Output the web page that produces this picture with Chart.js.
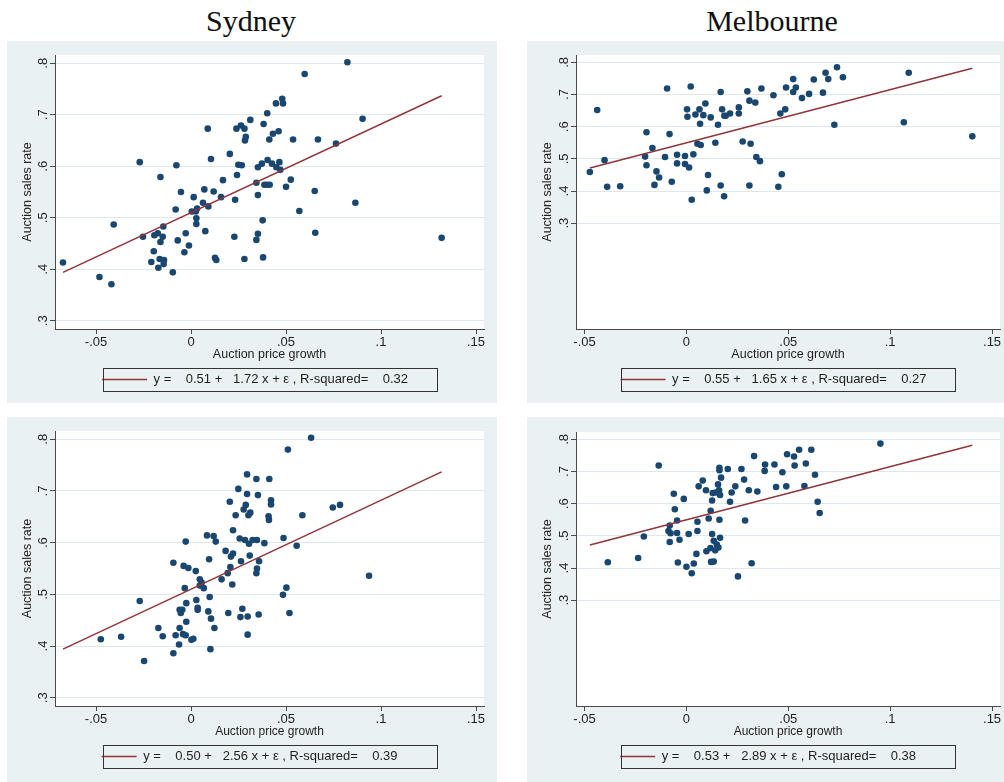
<!DOCTYPE html>
<html>
<head>
<meta charset="utf-8">
<script src="https://cdn.jsdelivr.net/npm/chart.js@4.4.1/dist/chart.umd.min.js"></script>
<style>
  html, body { margin: 0; padding: 0; background: #ffffff; }
  body { width: 1004px; height: 782px; position: relative; overflow: hidden; }
  .city { position: absolute; top: 2px; font-family: 'Liberation Serif', 'DejaVu Serif', serif;
          font-size: 30px; line-height: 38px; color: #111; transform: translateX(-50%); white-space: nowrap; }
  canvas { position: absolute; }
</style>
</head>
<body>
<div class="city" style="left:251px">Sydney</div>
<div class="city" style="left:772px">Melbourne</div>
<canvas id="sydTop" width="490" height="362" style="left:7px;top:41px"></canvas>
<canvas id="melTop" width="477" height="362" style="left:527px;top:41px"></canvas>
<canvas id="sydBot" width="490" height="365" style="left:7px;top:417px"></canvas>
<canvas id="melBot" width="477" height="365" style="left:527px;top:417px"></canvas>
<script>
// ---- Sydney, upper panel: auction price growth vs auction sales rate ----
const sydGrowth1 = [-0.0674,-0.0482,-0.0419,-0.0407,-0.0270,-0.0253,-0.0161,-0.0077,-0.0053,-0.0081,
  -0.0196,-0.0193,-0.0175,-0.0161,-0.0146,-0.0149,-0.0209,-0.0165,-0.0142,-0.0144,
  -0.0172,-0.0096,-0.0070,-0.0028,-0.0035,-0.0011,0.0014,0.0004,0.0025,0.0032,
  0.0028,0.0028,0.0063,0.0070,0.0091,0.0075,0.0088,0.0105,0.0119,0.0126,
  0.0133,0.0158,0.0168,0.0204,0.0232,0.0228,0.0239,0.0263,0.0281,0.0249,
  0.0267,0.0242,0.0288,0.0284,0.0281,0.0312,0.0382,0.0401,0.0447,0.0480,
  0.0484,0.0461,0.0431,0.0412,0.0537,0.0668,0.0763,0.0598,0.0823,0.0903,
  0.0352,0.0373,0.0403,0.0426,0.0449,0.0465,0.0470,0.0344,0.0352,0.0386,
  0.0400,0.0414,0.0500,0.0525,0.0651,0.0865,0.0570,0.0377,0.0352,0.0344,
  0.0654,0.0379,0.1319];
const sydRate1 = [0.413,0.385,0.371,0.487,0.608,0.463,0.579,0.602,0.550,0.516,
  0.435,0.466,0.470,0.453,0.483,0.463,0.414,0.420,0.418,0.410,
  0.403,0.394,0.456,0.470,0.433,0.446,0.540,0.512,0.512,0.518,
  0.499,0.488,0.529,0.555,0.522,0.474,0.673,0.614,0.551,0.422,
  0.418,0.540,0.573,0.624,0.535,0.463,0.673,0.679,0.673,0.603,
  0.602,0.583,0.657,0.650,0.420,0.690,0.682,0.703,0.722,0.731,
  0.722,0.668,0.663,0.652,0.652,0.652,0.644,0.779,0.802,0.692,
  0.598,0.605,0.612,0.605,0.598,0.608,0.593,0.568,0.544,0.564,
  0.564,0.564,0.560,0.574,0.552,0.529,0.513,0.495,0.469,0.457,
  0.471,0.423,0.461];

// ---- Melbourne, upper panel ----
const melGrowth1 = [-0.0474,-0.0438,-0.0402,-0.0389,-0.0325,-0.0196,-0.0203,-0.0196,-0.0167,-0.0147,
  -0.0134,-0.0157,-0.0095,-0.0083,-0.0105,-0.0072,-0.0046,-0.0046,-0.0007,-0.0007,
  0.0013,0.0003,0.0005,0.0021,0.0034,0.0026,0.0044,0.0064,0.0067,0.0083,
  0.0093,0.0054,0.0070,0.0119,0.0106,0.0100,0.0142,0.0155,0.0168,0.0175,
  0.0186,0.0193,0.0214,0.0168,0.0185,0.0257,0.0257,0.0276,0.0299,0.0309,
  0.0315,0.0309,0.0338,0.0368,0.0343,0.0361,0.0427,0.0461,0.0485,0.0489,
  0.0524,0.0524,0.0537,0.0567,0.0602,0.0625,0.0670,0.0683,0.0696,0.0739,
  0.0768,0.0726,0.0468,0.0451,0.1067,0.1091,0.1403];
const melRate1 = [0.459,0.652,0.496,0.413,0.415,0.583,0.507,0.480,0.534,0.461,
  0.442,0.419,0.719,0.577,0.506,0.429,0.513,0.486,0.509,0.484,
  0.473,0.654,0.631,0.725,0.514,0.373,0.638,0.654,0.609,0.636,
  0.672,0.547,0.543,0.629,0.450,0.402,0.550,0.606,0.708,0.654,
  0.634,0.634,0.641,0.417,0.384,0.660,0.641,0.554,0.710,0.681,
  0.547,0.417,0.675,0.719,0.506,0.493,0.698,0.641,0.654,0.722,
  0.748,0.708,0.722,0.689,0.702,0.747,0.706,0.768,0.748,0.785,
  0.754,0.606,0.452,0.413,0.614,0.768,0.570];

// ---- Sydney, lower panel ----
const sydGrowth2 = [-0.0475,-0.0368,-0.0270,-0.0247,-0.0172,-0.0149,-0.0093,-0.0093,-0.0081,-0.0063,
  -0.0060,-0.0060,-0.0054,-0.0046,-0.0042,-0.0039,-0.0028,-0.0028,-0.0033,-0.0025,
  -0.0025,-0.0014,0.0002,0.0012,0.0025,0.0028,0.0035,0.0035,0.0046,0.0046,
  0.0056,0.0067,0.0084,0.0095,0.0098,0.0091,0.0105,0.0102,0.0123,0.0119,
  0.0130,0.0161,0.0182,0.0193,0.0196,0.0207,0.0210,0.0217,0.0221,0.0221,
  0.0204,0.0235,0.0249,0.0256,0.0260,0.0263,0.0270,0.0277,0.0288,0.0295,
  0.0295,0.0284,0.0298,0.0298,0.0302,0.0305,0.0309,0.0344,0.0412,0.0352,
  0.0312,0.0421,0.0421,0.0408,0.0410,0.0510,0.0632,0.0586,0.0746,0.0784,
  0.0324,0.0347,0.0386,0.0487,0.0556,0.0358,0.0347,0.0344,0.0937,0.0502,
  0.0484,0.0356,0.0518];
const sydRate2 = [0.413,0.418,0.487,0.371,0.435,0.419,0.561,0.386,0.421,0.403,
  0.435,0.470,0.464,0.470,0.423,0.555,0.421,0.602,0.512,0.483,
  0.447,0.551,0.412,0.414,0.545,0.489,0.474,0.470,0.529,0.517,
  0.523,0.512,0.614,0.568,0.495,0.467,0.453,0.394,0.435,0.613,
  0.602,0.529,0.584,0.541,0.464,0.553,0.573,0.519,0.579,0.624,
  0.679,0.653,0.704,0.608,0.456,0.564,0.472,0.664,0.673,0.732,
  0.694,0.605,0.457,0.422,0.653,0.598,0.575,0.723,0.723,0.692,
  0.658,0.682,0.674,0.651,0.644,0.780,0.803,0.653,0.668,0.673,
  0.605,0.605,0.599,0.609,0.594,0.564,0.550,0.541,0.536,0.513,
  0.499,0.461,0.464];

// ---- Melbourne, lower panel ----
const melGrowth2 = [-0.0386,-0.0237,-0.0209,-0.0136,-0.0062,-0.0057,-0.0046,-0.0082,-0.0088,-0.0078,
  -0.0046,-0.0082,-0.0034,-0.0042,-0.0013,0.0000,0.0011,0.0026,0.0036,0.0049,
  0.0054,0.0054,0.0060,0.0080,0.0096,0.0109,0.0098,0.0118,0.0119,0.0126,
  0.0129,0.0126,0.0134,0.0141,0.0149,0.0157,0.0121,0.0134,0.0144,0.0155,
  0.0160,0.0165,0.0162,0.0165,0.0162,0.0162,0.0170,0.0203,0.0214,0.0222,
  0.0240,0.0253,0.0270,0.0283,0.0288,0.0306,0.0320,0.0332,0.0348,0.0386,
  0.0384,0.0432,0.0471,0.0440,0.0490,0.0494,0.0528,0.0531,0.0553,0.0579,
  0.0586,0.0613,0.0631,0.0644,0.0654,0.0952];
const melRate2 = [0.418,0.431,0.498,0.719,0.631,0.583,0.548,0.532,0.515,0.508,
  0.509,0.481,0.488,0.417,0.615,0.404,0.506,0.384,0.414,0.444,
  0.544,0.515,0.654,0.672,0.642,0.554,0.452,0.462,0.578,0.610,
  0.633,0.506,0.485,0.455,0.473,0.464,0.419,0.420,0.635,0.660,
  0.642,0.627,0.550,0.494,0.712,0.704,0.681,0.708,0.606,0.635,
  0.654,0.374,0.708,0.675,0.548,0.642,0.415,0.748,0.638,0.722,
  0.702,0.722,0.698,0.652,0.654,0.754,0.747,0.719,0.768,0.655,
  0.725,0.768,0.690,0.606,0.571,0.787];

// Fitted line coefficients [intercept, slope]; both panels of a city show the same fit
const sydFit = [0.51, 1.72];
const melFit = [0.55, 1.65];

// Figures quoted in each legend: [intercept, slope, R-squared]
const sydLegend1 = ['0.51', '1.72', '0.32'];
const melLegend1 = ['0.55', '1.65', '0.27'];
const sydLegend2 = ['0.50', '2.56', '0.39'];
const melLegend2 = ['0.53', '2.89', '0.38'];

// Axis ticks
const xTickValues = [-0.05, 0, 0.05, 0.1, 0.15];
const xTickLabels = ['-.05', '0', '.05', '.1', '.15'];
const yTickValues = [0.3, 0.4, 0.5, 0.6, 0.7, 0.8];
const yTickLabels = ['.3', '.4', '.5', '.6', '.7', '.8'];

const NAVY = '#1a476f';
const MAROON = '#90353b';
const PANEL = '#eaf1f3';
const GRID = '#dde7ec';
const AXIS = '#4a4a4a';
const FONT = "'Liberation Sans', Arial, sans-serif";

Chart.defaults.font.family = FONT;
Chart.defaults.color = '#1e1e1e';

const panelBackground = {
  id: 'panelBackground',
  beforeDraw(chart) {
    const { ctx, chartArea: a } = chart;
    ctx.save();
    ctx.fillStyle = PANEL;
    ctx.fillRect(0, 0, chart.width, chart.height);
    ctx.fillStyle = '#ffffff';
    ctx.fillRect(a.left, a.top, a.right - a.left, a.bottom - a.top);
    ctx.restore();
  }
};

const legendFrame = {
  id: 'legendFrame',
  afterDraw(chart, args, opts) {
    const { ctx, chartArea: a, legend } = chart;
    const cx = (a.left + a.right) / 2;
    ctx.save();
    ctx.strokeStyle = '#333333';
    ctx.lineWidth = 1;
    ctx.strokeRect(Math.round(cx - opts.width / 2) + 0.5, Math.round(legend.top) + 0.5,
                   opts.width, 23);
    ctx.restore();
  }
};

function fitLine(coef, xs) {
  const lo = Math.min(...xs), hi = Math.max(...xs);
  return [{ x: lo, y: coef[0] + coef[1] * lo }, { x: hi, y: coef[0] + coef[1] * hi }];
}

function legendText(vals, tail) {
  return 'y =    ' + vals[0] + ' +   ' + vals[1] + ' x + \u03b5 , R-squared=    ' + vals[2] + ' '.repeat(tail);
}

function makeChart(id, cfg) {
  const points = cfg.xs.map((x, i) => ({ x, y: cfg.ys[i] }));
  return new Chart(document.getElementById(id), {
    type: 'scatter',
    data: {
      datasets: [
        { label: 'obs', data: points, backgroundColor: NAVY, borderWidth: 0, pointRadius: 3.3, order: 2 },
        { type: 'line', label: legendText(cfg.legend, cfg.tail), data: fitLine(cfg.fit, cfg.lineXs),
          borderColor: MAROON, borderWidth: 1.5, pointRadius: 0, pointStyle: 'line', fill: false, order: 1 }
      ]
    },
    options: {
      responsive: false,
      animation: false,
      events: [],
      layout: { padding: cfg.padding },
      scales: {
        x: {
          type: 'linear', min: cfg.xRange[0], max: cfg.xRange[1],
          afterBuildTicks: s => { s.ticks = xTickValues.map(v => ({ value: v })); },
          afterFit: s => { s.height = 39; s.paddingLeft = 0; s.paddingRight = 0; },
          ticks: { callback: (v, i) => xTickLabels[i], font: { size: 13 }, padding: 1, maxRotation: 0, autoSkip: false },
          grid: { drawOnChartArea: false, drawTicks: true, tickLength: 5, tickColor: AXIS },
          border: { display: true, color: AXIS, width: 1 },
          title: { display: true, text: 'Auction price growth', font: { size: cfg.titleSize },
                   padding: { top: 0, bottom: 6 } }
        },
        y: {
          type: 'linear', min: cfg.yRange[0], max: cfg.yRange[1],
          afterBuildTicks: s => { s.ticks = yTickValues.map(v => ({ value: v })); },
          afterFit: s => { s.width = cfg.yWidth; s.paddingTop = 0; s.paddingBottom = 0; },
          ticks: { callback: (v, i) => yTickLabels[i], font: { size: 13 }, padding: 1,
                   minRotation: 90, maxRotation: 90, crossAlign: 'center', autoSkip: false },
          grid: { color: GRID, lineWidth: 1, drawTicks: true, tickLength: 5, tickColor: AXIS },
          border: { display: true, color: AXIS, width: 1 },
          title: { display: true, text: 'Auction sales rate', font: { size: 12.5 },
                   padding: { top: 13, bottom: 0 } }
        }
      },
      plugins: {
        tooltip: { enabled: false },
        legend: {
          position: 'bottom', fullSize: false,
          labels: {
            usePointStyle: true, pointStyle: 'line', pointStyleWidth: cfg.keyWidth, padding: 5,
            font: { size: 13 }, color: '#1e1e1e',
            filter: item => item.datasetIndex === 1
          }
        },
        legendFrame: { width: 334 }
      }
    },
    plugins: [panelBackground, legendFrame]
  });
}

const sydX = [-0.0716, 0.1542], sydY = [0.284, 0.816];
const melX = [-0.0542, 0.1539], melY = [-0.029, 0.823];

makeChart('sydTop', { xs: sydGrowth1, ys: sydRate1, fit: sydFit, lineXs: sydGrowth1, legend: sydLegend1,
  xRange: sydX, yRange: sydY, yWidth: 48, padding: { left: 0, top: 14, right: 13, bottom: 7 },
  keyWidth: 45, tail: 8, titleSize: 12.5 });
makeChart('melTop', { xs: melGrowth1, ys: melRate1, fit: melFit, lineXs: melGrowth1, legend: melLegend1,
  xRange: melX, yRange: melY, yWidth: 49, padding: { left: 0, top: 14, right: 0, bottom: 7 },
  keyWidth: 45, tail: 8, titleSize: 12.5 });
makeChart('sydBot', { xs: sydGrowth2, ys: sydRate2, fit: sydFit, lineXs: sydGrowth1, legend: sydLegend2,
  xRange: sydX, yRange: sydY, yWidth: 48, padding: { left: 0, top: 14, right: 13, bottom: 9 },
  keyWidth: 35, tail: 11, titleSize: 12 });
makeChart('melBot', { xs: melGrowth2, ys: melRate2, fit: melFit, lineXs: melGrowth1, legend: melLegend2,
  xRange: melX, yRange: melY, yWidth: 49, padding: { left: 0, top: 15, right: 0, bottom: 9 },
  keyWidth: 35, tail: 11, titleSize: 12 });
</script>
</body>
</html>
